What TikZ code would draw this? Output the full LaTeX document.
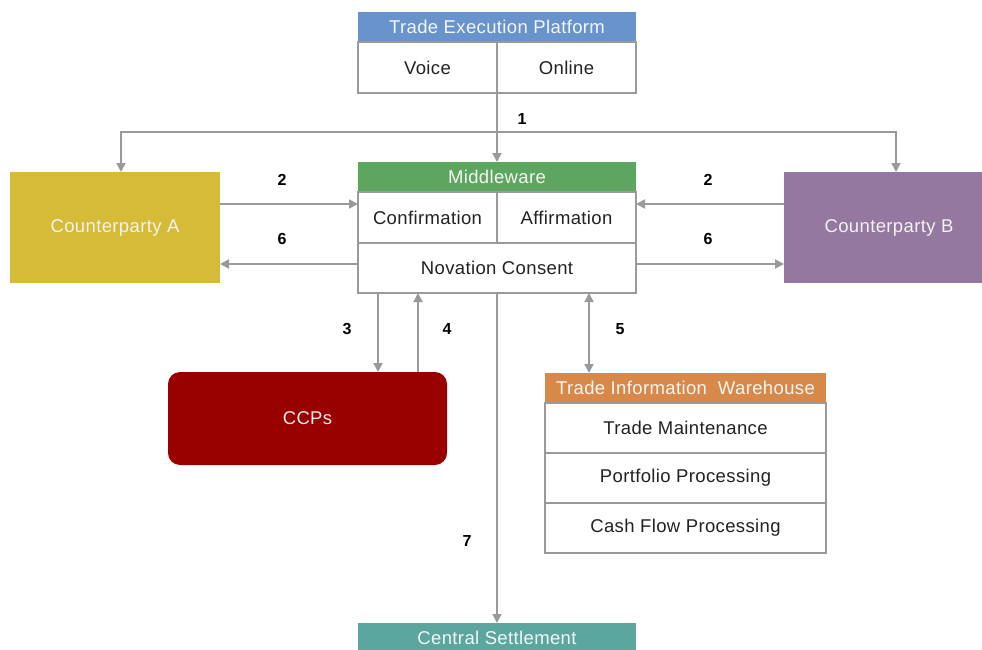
\documentclass[tikz,border=0pt]{standalone}
\usepackage{fontspec}
\setmainfont{Liberation Sans}[LetterSpace=2]
\usetikzlibrary{arrows.meta}
\definecolor{lgray}{HTML}{9A9A9A}
\definecolor{hblue}{HTML}{6893CD}
\definecolor{hgreen}{HTML}{5DA660}
\definecolor{cpayel}{HTML}{D5BB37}
\definecolor{cpbpur}{HTML}{94789F}
\definecolor{ccpred}{HTML}{990000}
\definecolor{horange}{HTML}{D8894A}
\definecolor{hteal}{HTML}{5BA7A0}
\definecolor{txt}{HTML}{222222}
\tikzset{
  hdr/.style={fill=#1, draw=none, text=white!92!gray, inner sep=0, outer sep=0, anchor=north west,
    font=\fontsize{18.5}{20}\selectfont},
  cell/.style={fill=white, draw=lgray, line width=1.6pt, inner sep=0, outer sep=0, anchor=north west,
    text=txt, font=\fontsize{18.5}{20}\selectfont},
  party/.style={fill=#1, draw=none, text=white!90!gray, inner sep=0, outer sep=0, anchor=north west,
    font=\fontsize{18.5}{20}\selectfont, minimum width=210pt, minimum height=111pt},
  arr/.style={draw=lgray, line width=1.8pt, -{Triangle[width=9pt,length=9pt]}},
  darr/.style={draw=lgray, line width=1.8pt, {Triangle[width=9pt,length=9pt]}-{Triangle[width=9pt,length=9pt]}},
  num/.style={font=\bfseries\fontsize{16}{18}\selectfont, text=black, inner sep=0}
}
\begin{document}
\begin{tikzpicture}[x=1pt,y=-1pt]
\useasboundingbox (0,0) rectangle (982,650);
\clip (0,0) rectangle (982,650);
\fill[white] (0,0) rectangle (982,650);

% Trade Execution Platform
\node[hdr=hblue, minimum width=278pt, minimum height=30pt] (tep) at (358,12) {Trade Execution Platform};
\node[cell, minimum width=139pt, minimum height=51pt] (voice) at (358,42) {Voice};
\node[cell, minimum width=139pt, minimum height=51pt] (online) at (497,42) {Online};

% Middleware
\node[hdr=hgreen, minimum width=278pt, minimum height=30pt] (mw) at (358,162) {Middleware};
\node[cell, minimum width=139pt, minimum height=51pt] (conf) at (358,192) {Confirmation};
\node[cell, minimum width=139pt, minimum height=51pt] (affi) at (497,192) {Affirmation};
\node[cell, minimum width=278pt, minimum height=50pt] (nov) at (358,243) {Novation Consent};

% Counterparties
\node[party=cpayel] (cpa) at (10,172) {Counterparty A};
\node[party=cpbpur] (cpb) at (784,172) {Counterparty B};

% CCPs
\node[fill=ccpred, draw=none, rounded corners=12pt, text=white!85!gray, inner sep=0, outer sep=0,
  anchor=north west, minimum width=279pt, minimum height=93pt,
  font=\fontsize{18.5}{20}\selectfont] (ccp) at (168,372) {CCPs};

% Trade Information Warehouse
\node[hdr=horange, minimum width=281pt, minimum height=30pt] (tiw) at (545,373) {Trade Information\ \ Warehouse};
\node[cell, minimum width=281pt, minimum height=50pt] (tm) at (545,403) {Trade Maintenance};
\node[cell, minimum width=281pt, minimum height=50pt] (pp) at (545,453) {Portfolio Processing};
\node[cell, minimum width=281pt, minimum height=50pt] (cf) at (545,503) {Cash Flow Processing};

% Central Settlement
\node[hdr=hteal, minimum width=278pt, minimum height=30pt] (cs) at (358,623) {Central Settlement};

% connectors
\coordinate (j1) at (497,132);
\coordinate (ja) at (121,132);
\coordinate (jb) at (896,132);
\coordinate (r2) at (0,204);
\coordinate (r6) at (0,264);
\draw[arr] (voice.south east) -- (mw.north);
\draw[arr] (j1) -- (ja) -- (ja |- cpa.north);
\draw[arr] (j1) -- (jb) -- (jb |- cpb.north);

\draw[arr] (cpa.east |- r2) -- (conf.west |- r2);
\draw[arr] (cpb.west |- r2) -- (affi.east |- r2);
\draw[arr] (nov.west |- r6) -- (cpa.east |- r6);
\draw[arr] (nov.east |- r6) -- (cpb.west |- r6);

\coordinate (c3) at (378,0);
\coordinate (c4) at (418,0);
\coordinate (c5) at (589,0);
\draw[arr] (c3 |- nov.south) -- (c3 |- ccp.north);
\draw[arr] (c4 |- ccp.north) -- (c4 |- nov.south);
\draw[darr] (c5 |- nov.south) -- (c5 |- tiw.north);
\draw[arr] (nov.south) -- (cs.north);

% labels
\node[num] (n1) at (522,119) {1};
\node[num] (n2a) at (282,180) {2};
\node[num] (n2b) at (708,180) {2};
\node[num] (n6a) at (282,239) {6};
\node[num] (n6b) at (708,239) {6};
\node[num] (n3) at (347,329) {3};
\node[num] (n4) at (447,329) {4};
\node[num] (n5) at (620,329) {5};
\node[num] (n7) at (467,541) {7};
\end{tikzpicture}
\end{document}
